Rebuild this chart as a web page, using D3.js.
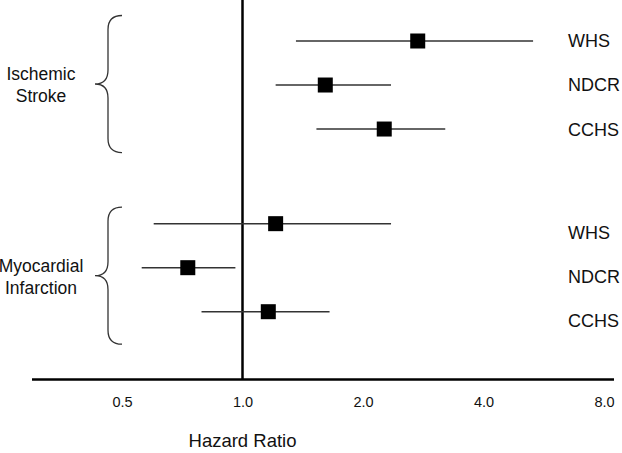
<!DOCTYPE html>
<html>
<head>
<meta charset="utf-8">
<script src="https://cdn.jsdelivr.net/npm/d3@7"></script>
<style>
  html, body { margin: 0; padding: 0; background: #fff; }
  svg { display: block; font-family: "Liberation Sans", Arial, sans-serif; }
</style>
</head>
<body>
<svg id="chart" width="622" height="453"></svg>
<script>
// ---- data ----
const groups   = ["Ischemic Stroke", "Myocardial Infarction"];
const groupLines = [["Ischemic", "Stroke"], ["Myocardial", "Infarction"]];
const rowGroup = [0, 0, 0, 1, 1, 1];
const studies  = ["WHS", "NDCR", "CCHS", "WHS", "NDCR", "CCHS"];
const hr       = [2.74, 1.61, 2.26, 1.21, 0.73, 1.16];
const ciLow    = [1.36, 1.21, 1.53, 0.60, 0.56, 0.79];
const ciHigh   = [5.32, 2.35, 3.21, 2.35, 0.96, 1.65];
const tickValues = [0.5, 1.0, 2.0, 4.0, 8.0];
const refValue = 1.0;
const xTitle = "Hazard Ratio";

// ---- layout ----
const W = 622, H = 453;
const axisY = 379.5;
const gapRows = 1.15;
const labelOffset = [0, 9];

const svg = d3.select("#chart");

const x = d3.scaleLog().domain([0.5, 8]).range([122, 604]);
const rowPos = studies.map((s, i) => i + rowGroup[i] * gapRows);
const y = d3.scaleLinear().domain([0, 5 + gapRows]).range([41, 311.7]);

const rows = studies.map((s, i) => ({
  study: s, group: rowGroup[i], hr: hr[i], lo: ciLow[i], hi: ciHigh[i], pos: rowPos[i]
}));

// reference line at HR = 1
svg.append("line")
  .attr("x1", x(refValue)).attr("x2", x(refValue))
  .attr("y1", 0).attr("y2", axisY)
  .attr("stroke", "#000").attr("stroke-width", 2.5);

// axis
const axisG = svg.append("g").attr("transform", `translate(0,${axisY})`);
axisG.call(d3.axisBottom(x).tickValues(tickValues).tickSize(0).tickPadding(17)
  .tickFormat(d3.format(".1f")));
axisG.select(".domain").remove();
axisG.selectAll("text").attr("font-size", 14.5).attr("fill", "#111")
  .attr("font-family", "'Liberation Sans', Arial, sans-serif");
axisG.append("line").attr("x1", 32).attr("x2", 614).attr("y1", 0).attr("y2", 0)
  .attr("stroke", "#000").attr("stroke-width", 2.5);

// axis title
svg.append("text").attr("x", x(refValue)).attr("y", 447)
  .attr("text-anchor", "middle").attr("font-size", 18.5).attr("fill", "#111")
  .text(xTitle);

// CI whiskers
svg.append("g").selectAll("line").data(rows).join("line")
  .attr("x1", d => x(d.lo)).attr("x2", d => x(d.hi))
  .attr("y1", d => y(d.pos)).attr("y2", d => y(d.pos))
  .attr("stroke", "#333").attr("stroke-width", 1.5);

// point estimates
const sq = 15;
svg.append("g").selectAll("rect").data(rows).join("rect")
  .attr("x", d => x(d.hr) - sq / 2).attr("y", d => y(d.pos) - sq / 2)
  .attr("width", sq).attr("height", sq).attr("fill", "#000");

// study labels
svg.append("g").selectAll("text").data(rows).join("text")
  .attr("x", 568).attr("y", d => y(d.pos) + labelOffset[d.group])
  .attr("dy", "0.36em").attr("font-size", 18).attr("fill", "#111")
  .text(d => d.study);

// braces + group labels
groups.forEach((g, gi) => {
  const gr = rows.filter(r => r.group === gi);
  const yt = y(gr[0].pos) + labelOffset[gi] - 25.5;
  const yb = y(gr[gr.length - 1].pos) + labelOffset[gi] + 23.5;
  const ym = (yt + yb) / 2;
  const xe = 122, xs = 108, xt = 95, r = 14;
  const p = `M${xe},${yt} Q${xs},${yt} ${xs},${yt + r} L${xs},${ym - r} Q${xs},${ym} ${xt},${ym}` +
            ` Q${xs},${ym} ${xs},${ym + r} L${xs},${yb - r} Q${xs},${yb} ${xe},${yb}`;
  svg.append("path").attr("d", p).attr("fill", "none")
    .attr("stroke", "#333").attr("stroke-width", 1.3);
  const t = svg.append("text").attr("text-anchor", "middle")
    .attr("font-size", 17.5).attr("fill", "#111");
  groupLines[gi].forEach((ln, li) => {
    t.append("tspan").attr("x", 41).attr("y", ym + 1 + (li - 0.5) * 22)
      .attr("dy", "0.36em").text(ln);
  });
});
</script>
</body>
</html>
